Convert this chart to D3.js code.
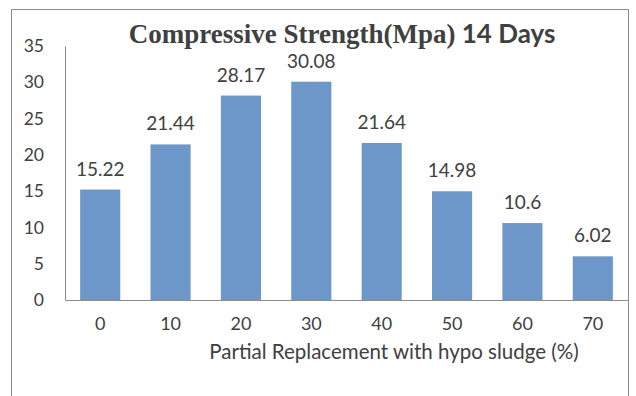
<!DOCTYPE html>
<html>
<head>
<meta charset="utf-8">
<script src="https://cdn.jsdelivr.net/npm/d3@7"></script>
<style>
  body { margin: 0; background: #fff; }
  text { fill: #404040; }
</style>
</head>
<body>
<div class="chart"></div>
<script>
const categories = ["0", "10", "20", "30", "40", "50", "60", "70"]
const strength = [15.22, 21.44, 28.17, 30.08, 21.64, 14.98, 10.6, 6.02]
const yTicks = [0, 5, 10, 15, 20, 25, 30, 35]

let dimensions = {
  width: 636,
  height: 396,
  margin: { top: 46, right: 8, bottom: 96, left: 65 }
}
dimensions.boundedWidth = dimensions.width - dimensions.margin.left - dimensions.margin.right
dimensions.boundedHeight = dimensions.height - dimensions.margin.top - dimensions.margin.bottom

const wrapper = d3.select(".chart")
  .append("svg")
  .attr("width", dimensions.width)
  .attr("height", dimensions.height)

// chart frame
wrapper.append("rect")
  .attr("x", 11.5).attr("y", 9.5)
  .attr("width", 617).attr("height", 420)
  .attr("fill", "none")
  .attr("stroke", "#8c8c8c")

const bounds = wrapper.append("g")
  .attr("transform", `translate(${dimensions.margin.left},${dimensions.margin.top})`)

const x = d3.scaleBand()
  .domain(categories)
  .range([0, dimensions.boundedWidth])
  .paddingInner(0.43)
  .paddingOuter(0.215)

const y = d3.scaleLinear()
  .domain([0, 35])
  .range([dimensions.boundedHeight, 0])

bounds.selectAll("rect.bar")
  .data(strength)
  .join("rect")
  .attr("class", "bar")
  .attr("x", (d, i) => x(categories[i]))
  .attr("y", d => y(d))
  .attr("width", x.bandwidth())
  .attr("height", d => dimensions.boundedHeight - y(d))
  .attr("fill", "#6e97c9")

bounds.selectAll("text.value")
  .data(strength)
  .join("text")
  .attr("class", "value")
  .attr("x", (d, i) => x(categories[i]) + x.bandwidth() / 2)
  .attr("y", d => y(d) - 14)
  .attr("text-anchor", "middle")
  .style("font", "19px Lato")
  .text(d => d)

const yAxis = d3.axisLeft(y).tickValues(yTicks).tickSize(0).tickPadding(21)
bounds.append("g")
  .call(yAxis)
  .call(g => g.select(".domain").attr("stroke", "#8c8c8c"))
  .call(g => g.selectAll("text").style("font", "17.5px Lato").attr("fill", "#404040"))

const xAxis = d3.axisBottom(x).tickSize(0).tickPadding(17)
bounds.append("g")
  .attr("transform", `translate(0,${dimensions.boundedHeight})`)
  .call(xAxis)
  .call(g => g.select(".domain").attr("stroke", "#8c8c8c"))
  .call(g => g.selectAll("text").style("font", "18px Lato").attr("fill", "#404040"))

wrapper.append("text")
  .attr("x", 394)
  .attr("y", 359)
  .attr("text-anchor", "middle")
  .style("font", "20.5px Lato")
  .text("Partial Replacement with hypo sludge (%)")

const title = wrapper.append("text")
  .attr("x", 342)
  .attr("y", 43)
  .attr("text-anchor", "middle")
title.append("tspan")
  .style("font", "bold 27px 'Liberation Serif'")
  .text("Compressive Strength(Mpa)")
title.append("tspan")
  .style("font", "bold 26px Lato")
  .text(" 14 Days")
</script>
</body>
</html>
